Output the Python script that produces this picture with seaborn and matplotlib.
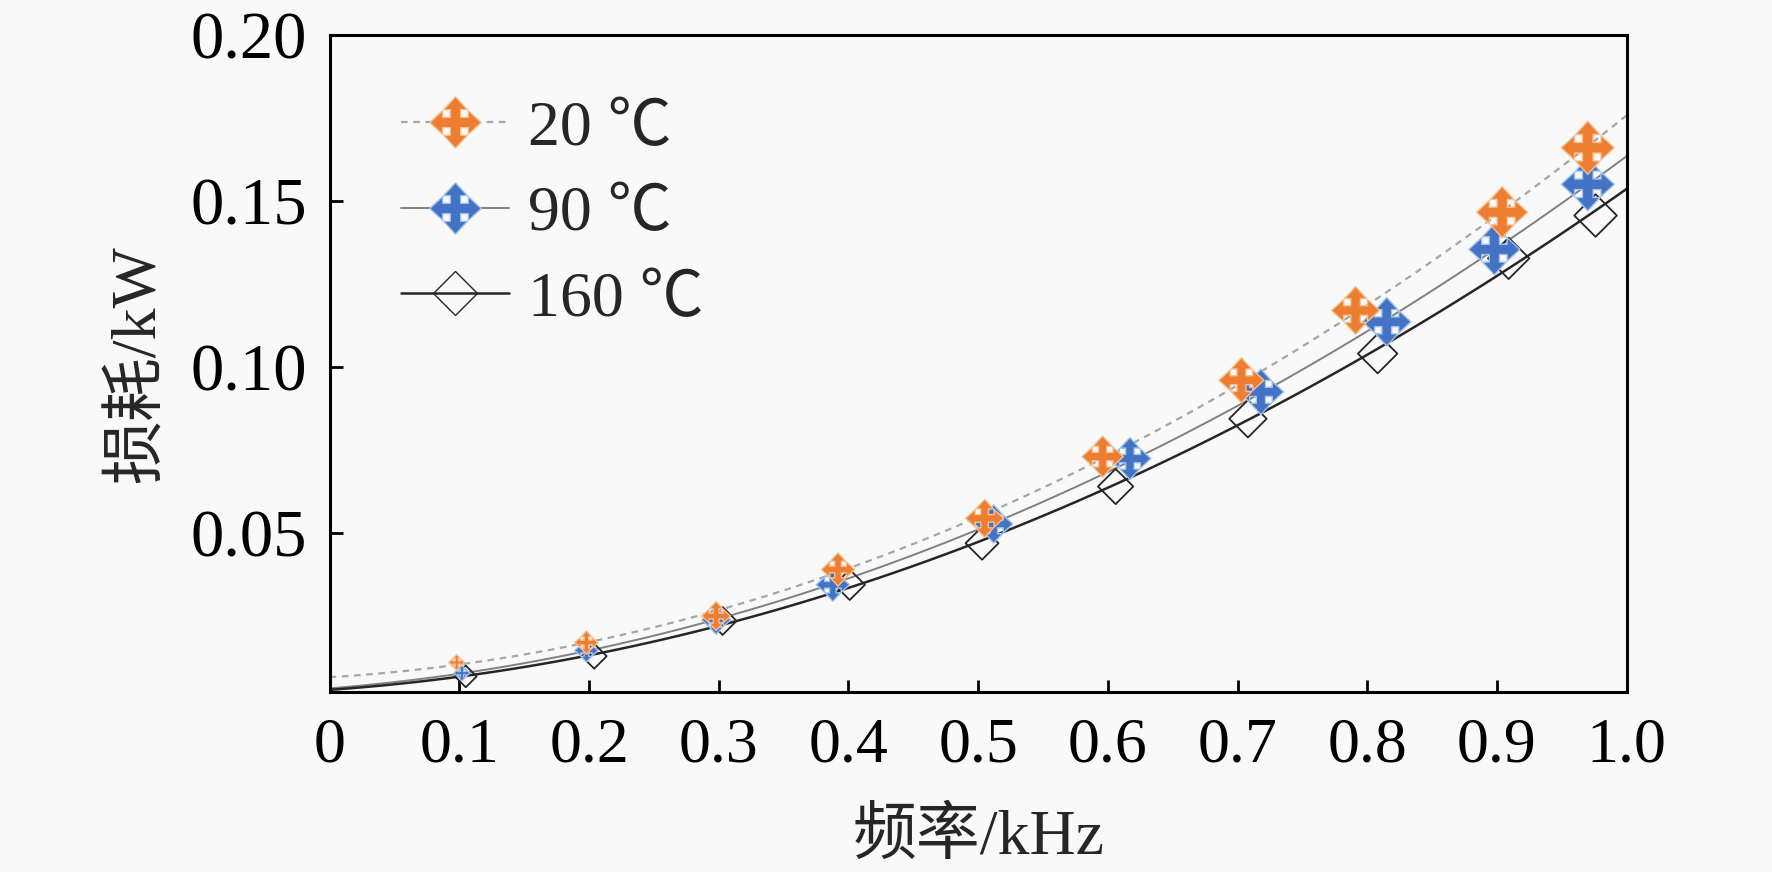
import numpy as np
import pandas as pd
import matplotlib.pyplot as plt
from matplotlib.path import Path
from matplotlib.lines import Line2D
import seaborn as sns

plt.switch_backend("Agg")
sns.set_theme(style="ticks")
plt.rcParams["font.family"] = ["Liberation Serif", "Noto Sans CJK SC", "DejaVu Sans"]

# data
freq_20 = [0.098, 0.198, 0.298, 0.392, 0.505, 0.596, 0.703, 0.791, 0.904, 0.970]
loss_20 = [0.011, 0.017, 0.025, 0.039, 0.0544, 0.073, 0.096, 0.117, 0.1466, 0.166]
freq_90 = [0.102, 0.198, 0.298, 0.388, 0.512, 0.617, 0.718, 0.815, 0.898, 0.970]
loss_90 = [0.0078, 0.0146, 0.0238, 0.0344, 0.0527, 0.0724, 0.0925, 0.1136, 0.1354, 0.155]
freq_160 = [0.105, 0.204, 0.303, 0.401, 0.503, 0.606, 0.708, 0.808, 0.909, 0.976]
loss_160 = [0.0068, 0.0129, 0.0235, 0.0344, 0.0469, 0.064, 0.0844, 0.104, 0.1327, 0.1456]
labels = ["20 ℃", "90 ℃", "160 ℃"]
x_ticks = [0, 0.1, 0.2, 0.3, 0.4, 0.5, 0.6, 0.7, 0.8, 0.9, 1.0]
x_tick_labels = ["0", "0.1", "0.2", "0.3", "0.4", "0.5", "0.6", "0.7", "0.8", "0.9", "1.0"]
y_ticks = [0.05, 0.10, 0.15, 0.20]
y_tick_labels = ["0.05", "0.10", "0.15", "0.20"]

ORANGE = "#ED7D31"
BLUE = "#4472C4"
FS = 46

# four-way arrow marker
s, hw, hl = 0.2, 0.46, 0.5
verts = [(0, 1), (hw, hl), (s, hl), (s, s), (hl, s), (hl, hw), (1, 0),
         (hl, -hw), (hl, -s), (s, -s), (s, -hl), (hw, -hl), (0, -1),
         (-hw, -hl), (-s, -hl), (-s, -s), (-hl, -s), (-hl, -hw), (-1, 0),
         (-hl, hw), (-hl, s), (-s, s), (-s, hl), (-hw, hl), (0, 1)]
arrow = Path(verts, [Path.MOVETO] + [Path.LINETO] * (len(verts) - 2) + [Path.CLOSEPOLY])

fig = plt.figure(figsize=(17.72, 8.72), dpi=100, facecolor="#f9f9f9")
ax = fig.add_axes([0.186, 0.206, 0.732, 0.754], facecolor="#f9f9f9")
ax.set_xlim(0, 1.0)
ax.set_ylim(0.002, 0.2)

series = [
    (freq_20, loss_20, "#a6a6a6", (0, (3, 2.5)), 1.6),
    (freq_90, loss_90, "#808080", "-", 1.4),
    (freq_160, loss_160, "#262626", "-", 1.8),
]

# quadratic trend lines
for fx, fy, lc, ls, lw in series:
    sns.regplot(x=fx, y=fy, order=2, ci=None, scatter=False, truncate=False,
                ax=ax, line_kws=dict(color=lc, linestyle=ls, linewidth=lw))

# markers (they grow with frequency as in the original)
df20 = pd.DataFrame({"f": freq_20, "p": loss_20})
df90 = pd.DataFrame({"f": freq_90, "p": loss_90})
df160 = pd.DataFrame({"f": freq_160, "p": loss_160})

sns.scatterplot(data=df160, x="f", y="p", size="f", sizes=(120, 480), size_norm=(0.1, 1.0),
                marker="D", facecolor="none", edgecolor="#262626", linewidth=1.3,
                legend=False, ax=ax, zorder=3)
sns.scatterplot(data=df90, x="f", y="p", size="f", sizes=(130, 1500), size_norm=(0.1, 1.0),
                marker=arrow, color=BLUE, edgecolor="#9fc3ea", linewidth=1.0,
                legend=False, ax=ax, zorder=4)
sns.scatterplot(data=df20, x="f", y="p", size="f", sizes=(130, 1500), size_norm=(0.1, 1.0),
                marker=arrow, color=ORANGE, edgecolor="#f7c08f", linewidth=1.0,
                legend=False, ax=ax, zorder=5)

ax.set_xticks(x_ticks)
ax.set_xticklabels(x_tick_labels)
ax.set_yticks(y_ticks)
ax.set_yticklabels(y_tick_labels)
ax.tick_params(direction="in", length=9, width=2, colors="black", labelsize=FS,
               top=False, right=False)
ax.tick_params(axis="x", pad=18)
ax.tick_params(axis="y", pad=16, labelsize=FS + 2)
for sp in ax.spines.values():
    sp.set_visible(True)
    sp.set_linewidth(2.2)
    sp.set_color("black")

ax.set_xlabel("频率/kHz", fontsize=FS, labelpad=24)
ax.set_ylabel("损耗/kW", fontsize=FS, labelpad=16)

handles = [
    Line2D([], [], color="#a6a6a6", linestyle=(0, (3, 2.5)), linewidth=1.6,
           marker=arrow, markersize=37, markerfacecolor=ORANGE, markeredgecolor="#f7c08f"),
    Line2D([], [], color="#808080", linestyle="-", linewidth=1.4,
           marker=arrow, markersize=37, markerfacecolor=BLUE, markeredgecolor="#9fc3ea"),
    Line2D([], [], color="#262626", linestyle="-", linewidth=1.8,
           marker="D", markersize=22, markerfacecolor="none", markeredgecolor="#262626"),
]
ax.legend(handles, labels, loc="upper left", bbox_to_anchor=(0.035, 0.94), frameon=False,
          fontsize=FS, handlelength=1.7, handletextpad=0.3, labelspacing=0.42,
          borderaxespad=0)

fig.savefig("out.png", dpi=100, facecolor=fig.get_facecolor())
